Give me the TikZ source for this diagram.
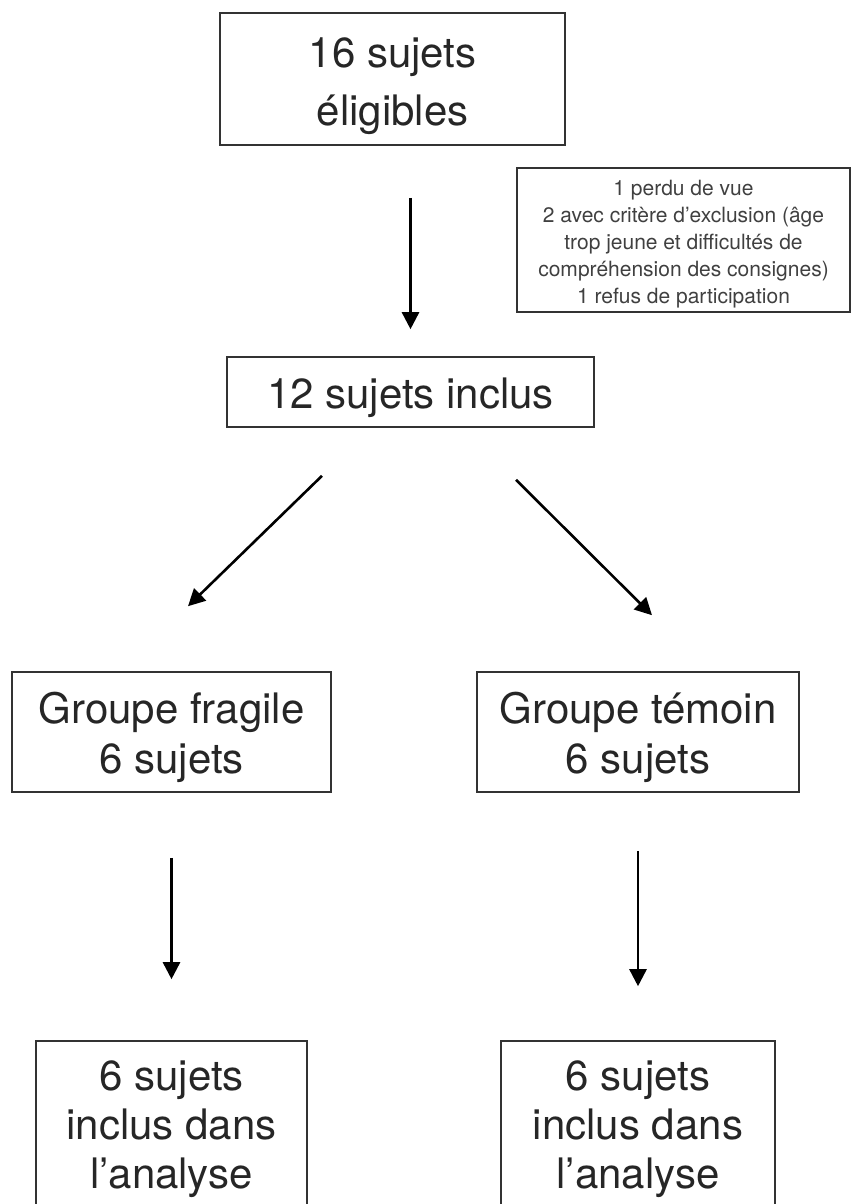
\documentclass[tikz,border=0pt]{standalone}
\usepackage{fontspec}
\setmainfont{TeX Gyre Heros}
\usetikzlibrary{arrows.meta,positioning,calc}

\begin{document}
\begin{tikzpicture}[x=1pt, y=-1pt]
	\tikzstyle{box}=[draw=black!80, line width=1.6pt, align=center, text=black!85, inner sep=0pt, anchor=base];
	\tikzstyle{big}=[font=\fontsize{42}{50}\selectfont];
	\tikzstyle{arr}=[-{Triangle[length=17pt, width=17pt]}, line width=2.6pt];

	\useasboundingbox (0,0) rectangle (851,1204);
	\clip (0,0) rectangle (851,1204);

	\node[box, font=\fontsize{42}{58}\selectfont, minimum width=345pt, text height=112pt, text depth=20pt] (e) at (392.5,125) {16 sujets\\éligibles};
	\node[box, font=\fontsize{21}{27}\selectfont, text=black!75, minimum width=333pt, text height=135pt, text depth=9pt] (x) at (683.5,303) {1 perdu de vue\\2 avec critère d’exclusion (âge\\trop jeune et difficultés de\\compréhension des consignes)\\1 refus de participation};
	\node[box, big, minimum width=367pt, text height=51pt, text depth=19pt] (i) at (410.5,408) {12 sujets inclus};
	\node[box, big, minimum width=319pt, text height=101pt, text depth=19pt] (f) at (171.5,773) {Groupe fragile\\6 sujets};
	\node[box, big, minimum width=322pt, text height=101pt, text depth=19pt] (t) at (638,773) {Groupe témoin\\6 sujets};
	\node[box, font=\fontsize{42}{49}\selectfont, minimum width=271pt, text height=147pt, text depth=50pt] (af) at (171.5,1188) {6 sujets\\inclus dans\\l’analyse};
	\node[box, font=\fontsize{42}{49}\selectfont, minimum width=274pt, text height=147pt, text depth=50pt] (at) at (638,1188) {6 sujets\\inclus dans\\l’analyse};

	\draw (e.south -| i.north) edge[arr, shorten <=52pt, shorten >=27pt] (i.north);
	\draw ([xshift=-88.5pt, yshift=-48pt]i.south) edge[arr] ([xshift=16.5pt, yshift=65pt]f.north);
	\draw ([xshift=105.5pt, yshift=-52pt]i.south) edge[arr] ([xshift=14pt, yshift=56pt]t.north);
	\draw (f.south) edge[arr, shorten <=65pt, shorten >=61pt] (af.north);
	\draw (t.south) edge[arr, shorten <=58pt, shorten >=54pt] (at.north);
\end{tikzpicture}
\end{document}
